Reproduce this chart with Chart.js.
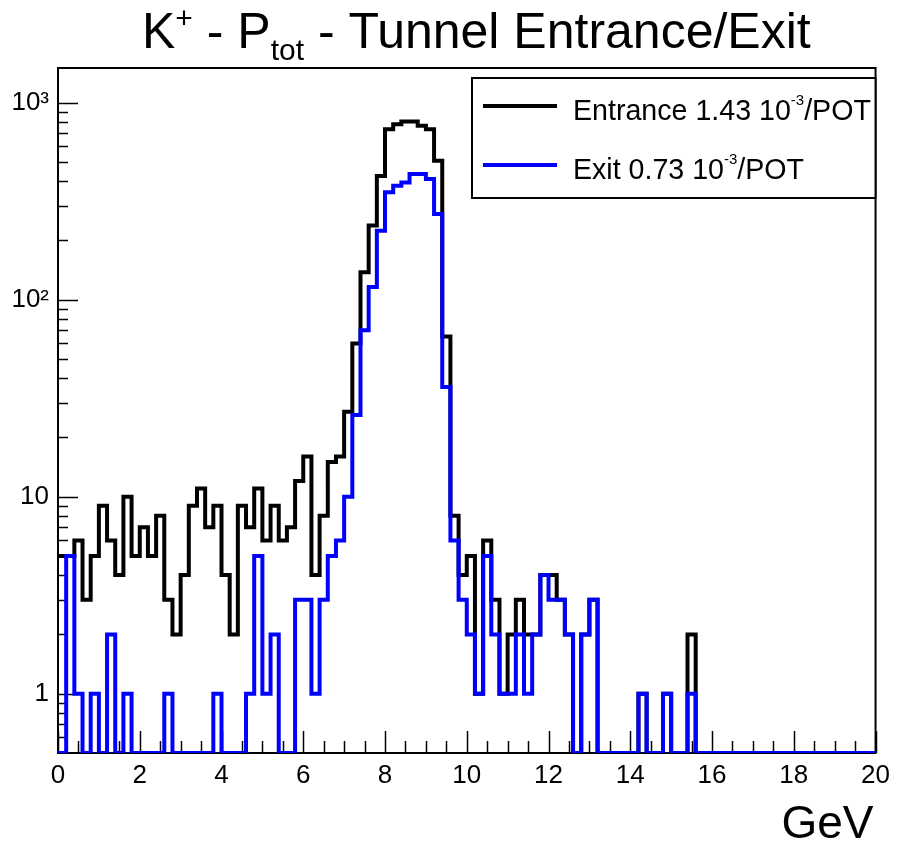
<!DOCTYPE html>
<html lang="en">
<head>
<meta charset="UTF-8">
<title>K+ - Ptot - Tunnel Entrance/Exit</title>
<script src="https://cdn.jsdelivr.net/npm/chart.js"></script>
<style>
    body { margin: 0; background: #fff; }
    #wrap { width: 897px; height: 846px; }
</style>
</head>
<body>
<div id="wrap"><canvas id="chart" width="897" height="846"></canvas></div>
<script>
// binning of both histograms, GeV
const xMin = 0;
const xMax = 20;
const binWidth = 0.2;

// log y range
const yMin = 0.5;
const yMax = 1500;

const xTickValues = [0, 2, 4, 6, 8, 10, 12, 14, 16, 18, 20];
const yTickValues = [1, 10, 100, 1000];
const yTickText = ['1', '10', '10²', '10³'];

// K+ counts per 0.2 GeV bin, tunnel entrance (black)
const entrance = [
    5, 5, 6, 3, 5, 9, 6, 4, 10, 5,
    7, 5, 8, 3, 2, 4, 9, 11, 7, 9,
    4, 2, 9, 7, 11, 6, 9, 6, 7, 12,
    16, 4, 8, 15, 16, 27, 60, 138, 238, 425,
    734, 778, 803, 803, 763, 734, 508, 65, 8, 4,
    5, 1, 6, 3, 1, 2, 3, 2, 2, 4,
    4, 3, 2, 0, 2, 3, 0, 0, 0, 0,
    0, 1, 0, 0, 1, 0, 0, 2, 0, 0,
    0, 0, 0, 0, 0, 0, 0, 0, 0, 0,
    0, 0, 0, 0, 0, 0, 0, 0, 0, 0
];

// tunnel exit (blue)
const exit = [
    0, 5, 1, 0, 1, 0, 2, 0, 1, 0,
    0, 0, 0, 1, 0, 0, 0, 0, 0, 1,
    0, 0, 0, 1, 5, 1, 2, 0, 0, 3,
    3, 1, 3, 5, 6, 10, 26, 70, 116, 224,
    351, 379, 394, 435, 435, 410, 272, 36, 6, 3,
    2, 1, 5, 2, 1, 1, 2, 1, 2, 4,
    3, 3, 2, 0, 2, 3, 0, 0, 0, 0,
    0, 1, 0, 0, 1, 0, 0, 1, 0, 0,
    0, 0, 0, 0, 0, 0, 0, 0, 0, 0,
    0, 0, 0, 0, 0, 0, 0, 0, 0, 0
];

const FONT = '"Liberation Sans", Arial, Helvetica, sans-serif';

// step outline like ROOT: empty bins sit on the bottom of the frame
function histPoints(values) {
    const pts = values.map((v, i) => ({ x: xMin + i * binWidth, y: v > 0 ? v : yMin }));
    pts.push({ x: xMax, y: pts[pts.length - 1].y });
    return pts;
}

function drawPieces(ctx, x, y, pieces) {
    pieces.forEach(p => {
        ctx.font = p.size + 'px ' + FONT;
        ctx.fillText(p.text, x, y + (p.dy || 0));
        x += ctx.measureText(p.text).width;
    });
}

const rootFrame = {
    id: 'rootFrame',
    beforeDatasetsDraw(chart) {
        const { ctx, chartArea: a, scales: { x, y } } = chart;
        ctx.save();
        ctx.strokeStyle = '#000';
        ctx.lineWidth = 1.5;
        ctx.beginPath();
        // x ticks, inward
        for (let v = xMin; v <= xMax + 1e-9; v += 0.5) {
            const px = Math.round(x.getPixelForValue(v)) + 0.5;
            const len = Math.abs(v % 2) < 1e-9 ? 22 : 12;
            ctx.moveTo(px, a.bottom);
            ctx.lineTo(px, a.bottom - len);
        }
        // y ticks, decades long and 2..9 short
        [0.1, 1, 10, 100, 1000].forEach(d => {
            for (let k = 1; k <= 9; k++) {
                const v = k * d;
                if (v <= yMin || v >= yMax) continue;
                const py = Math.round(y.getPixelForValue(v)) + 0.5;
                const len = k === 1 ? 20 : 10;
                ctx.moveTo(a.left, py);
                ctx.lineTo(a.left + len, py);
            }
        });
        ctx.stroke();
        ctx.lineWidth = 2;
        ctx.strokeRect(a.left, a.top, a.right - a.left, a.bottom - a.top);
        ctx.restore();
    },
    afterDraw(chart) {
        const { ctx, chartArea: a } = chart;
        ctx.save();
        ctx.fillStyle = '#000';
        ctx.textBaseline = 'alphabetic';
        ctx.textAlign = 'left';

        // title
        drawPieces(ctx, 142, 48, [
            { text: 'K', size: 50 },
            { text: '+', size: 30, dy: -20 },
            { text: ' - P', size: 50 },
            { text: 'tot', size: 30, dy: 12 },
            { text: ' - Tunnel Entrance/Exit', size: 50 }
        ]);

        // axis title
        ctx.font = '46px ' + FONT;
        ctx.textAlign = 'right';
        ctx.fillText('GeV', a.right - 2, 838);
        ctx.textAlign = 'left';

        // legend
        const lx = 472, ly = 78, lw = a.right - lx, lh = 120;
        ctx.fillStyle = '#fff';
        ctx.fillRect(lx, ly, lw, lh);
        ctx.strokeStyle = '#000';
        ctx.lineWidth = 2;
        ctx.strokeRect(lx, ly, lw, lh);

        const entries = [
            { color: '#000000', label: 'Entrance 1.43 10', y: 106 },
            { color: '#0000ff', label: 'Exit 0.73 10', y: 165 }
        ];
        entries.forEach(e => {
            ctx.strokeStyle = e.color;
            ctx.lineWidth = 4;
            ctx.beginPath();
            ctx.moveTo(483, e.y);
            ctx.lineTo(557, e.y);
            ctx.stroke();
            ctx.fillStyle = '#000';
            drawPieces(ctx, 573, e.y + 14, [
                { text: e.label, size: 28.6 },
                { text: '-3', size: 15, dy: -15 },
                { text: '/POT', size: 28.6 }
            ]);
        });
        ctx.restore();
    }
};

new Chart(document.getElementById('chart'), {
    type: 'line',
    data: {
        datasets: [
            {
                label: 'Exit 0.73 10^-3/POT',
                data: histPoints(exit),
                borderColor: '#0000ff',
                borderWidth: 4,
                stepped: 'before',
                pointRadius: 0,
                fill: false,
                order: 0
            },
            {
                label: 'Entrance 1.43 10^-3/POT',
                data: histPoints(entrance),
                borderColor: '#000000',
                borderWidth: 4,
                stepped: 'before',
                pointRadius: 0,
                fill: false,
                order: 1
            }
        ]
    },
    options: {
        responsive: false,
        animation: false,
        devicePixelRatio: 1,
        layout: { padding: { left: 0, top: 68, right: 19, bottom: 0 } },
        plugins: {
            legend: { display: false },
            title: { display: false },
            tooltip: { enabled: false }
        },
        scales: {
            x: {
                type: 'linear',
                min: xMin,
                max: xMax,
                grid: { display: false, drawTicks: false },
                border: { display: false },
                afterFit: s => { s.height = 93; },
                afterBuildTicks: s => { s.ticks = xTickValues.map(v => ({ value: v })); },
                ticks: {
                    color: '#000',
                    padding: 7,
                    maxRotation: 0,
                    autoSkip: false,
                    font: { family: FONT, size: 26 },
                    callback: v => String(v)
                }
            },
            y: {
                type: 'logarithmic',
                min: yMin,
                max: yMax,
                grid: { display: false, drawTicks: false },
                border: { display: false },
                afterFit: s => { s.width = 58; },
                afterBuildTicks: s => { s.ticks = yTickValues.map(v => ({ value: v })); },
                ticks: {
                    color: '#000',
                    padding: 9,
                    autoSkip: false,
                    font: { family: FONT, size: 26 },
                    callback: v => {
                        const i = yTickValues.indexOf(v);
                        return i >= 0 ? yTickText[i] : '';
                    }
                }
            }
        }
    },
    plugins: [rootFrame]
});
</script>
</body>
</html>
